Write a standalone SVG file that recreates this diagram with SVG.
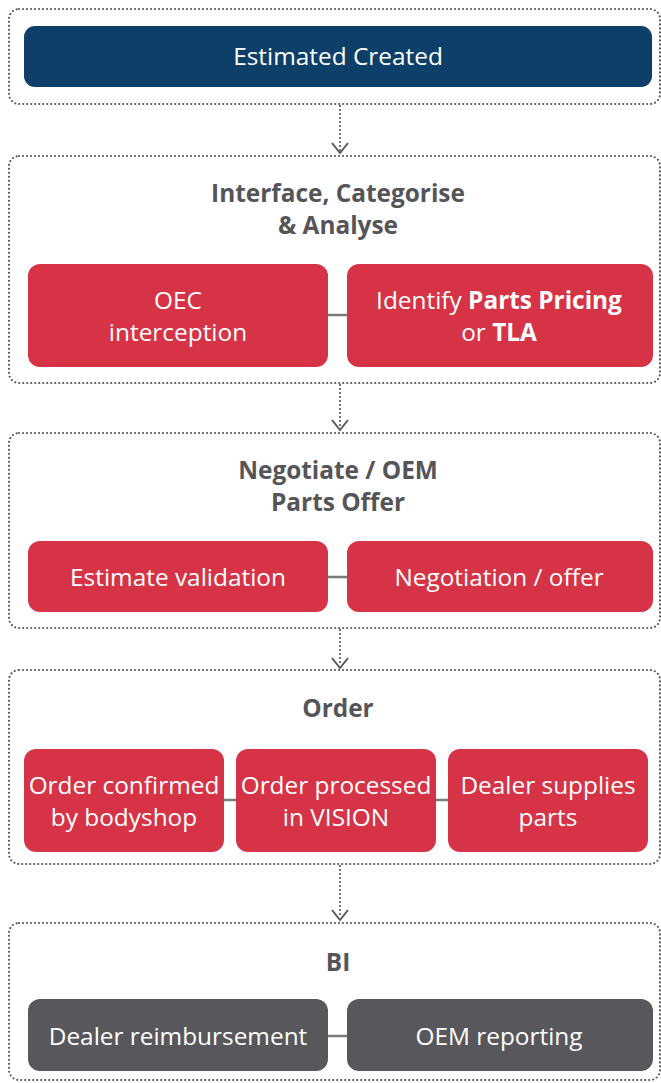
<svg xmlns="http://www.w3.org/2000/svg" width="661" height="1083" viewBox="0 0 661 1083">
<style>
.cont{fill:none;stroke:#58575b;stroke-width:2.2;stroke-dasharray:0 4;stroke-linecap:round}
.blue{fill:#0d3f68}
.red{fill:#d63347}
.grey{fill:#58575b}
.t{font-family:"Open Sans","Noto Sans",sans-serif;font-size:24.4px;fill:#fff;text-anchor:middle}
.h{font-family:"Open Sans","Noto Sans",sans-serif;font-size:24.4px;font-weight:bold;fill:#555459;text-anchor:middle}
.b{font-weight:bold}
.link{stroke:#7a797d;stroke-width:2.5}
.flow{stroke:#58575b;stroke-width:2.2;stroke-dasharray:0 4;stroke-linecap:round;fill:none}
.head{stroke:#58575b;stroke-width:2;fill:none}
</style>
<rect x="0" y="0" width="661" height="1083" fill="#fff"/>
<g id="connectors">
<line class="flow" x1="340" y1="106" x2="340" y2="151"/>
<polyline class="head" points="332,143 340,153 348,143"/>
<line class="flow" x1="340" y1="385" x2="340" y2="428"/>
<polyline class="head" points="332,420 340,430 348,420"/>
<line class="flow" x1="340" y1="630" x2="340" y2="666"/>
<polyline class="head" points="332,658 340,668 348,658"/>
<line class="flow" x1="340" y1="866" x2="340" y2="918"/>
<polyline class="head" points="332,910 340,920 348,910"/>
<line class="link" x1="328" y1="315" x2="347" y2="315"/>
<line class="link" x1="328" y1="577" x2="347" y2="577"/>
<line class="link" x1="224" y1="800" x2="236" y2="800"/>
<line class="link" x1="436" y1="800" x2="448" y2="800"/>
<line class="link" x1="328" y1="1036" x2="347" y2="1036"/>
</g>
<g id="stage1">
<rect class="cont" x="9" y="9" width="651" height="95" rx="10"/>
<g id="estimated-created">
<rect class="blue" x="24" y="26" width="628" height="61" rx="11"/>
<text class="t" x="338" y="65">Estimated Created</text>
</g>
</g>
<g id="stage2">
<rect class="cont" x="9" y="156" width="651" height="227" rx="10"/>
<text class="h" x="338" y="202">Interface, Categorise</text>
<text class="h" x="338" y="234">&amp; Analyse</text>
<g id="oec">
<rect class="red" x="28" y="264" width="300" height="103" rx="12"/>
<text class="t" x="178" y="309">OEC</text>
<text class="t" x="178" y="341">interception</text>
</g>
<g id="identify">
<rect class="red" x="347" y="264" width="306" height="103" rx="12"/>
<text class="t" x="499" y="309">Identify <tspan class="b">Parts Pricing</tspan></text>
<text class="t" x="499" y="341">or <tspan class="b">TLA</tspan></text>
</g>
</g>
<g id="stage3">
<rect class="cont" x="9" y="433" width="651" height="195" rx="10"/>
<text class="h" x="338" y="479">Negotiate / OEM</text>
<text class="h" x="338" y="511">Parts Offer</text>
<g id="estimate-validation">
<rect class="red" x="28" y="541" width="300" height="71" rx="12"/>
<text class="t" x="178" y="586">Estimate validation</text>
</g>
<g id="negotiation">
<rect class="red" x="347" y="541" width="306" height="71" rx="12"/>
<text class="t" x="499" y="586">Negotiation / offer</text>
</g>
</g>
<g id="stage4">
<rect class="cont" x="9" y="670" width="651" height="194" rx="10"/>
<text class="h" x="338" y="717">Order</text>
<g id="order-confirmed">
<rect class="red" x="24" y="749" width="200" height="103" rx="12"/>
<text class="t" x="124" y="794">Order confirmed</text>
<text class="t" x="124" y="826">by bodyshop</text>
</g>
<g id="order-processed">
<rect class="red" x="236" y="749" width="200" height="103" rx="12"/>
<text class="t" x="336" y="794">Order processed</text>
<text class="t" x="336" y="826">in VISION</text>
</g>
<g id="dealer-supplies">
<rect class="red" x="448" y="749" width="200" height="103" rx="12"/>
<text class="t" x="548" y="794">Dealer supplies</text>
<text class="t" x="548" y="826">parts</text>
</g>
</g>
<g id="stage5">
<rect class="cont" x="9" y="923" width="651" height="157" rx="10"/>
<text class="h" x="338" y="971">BI</text>
<g id="dealer-reimbursement">
<rect class="grey" x="28" y="999" width="300" height="72" rx="12"/>
<text class="t" x="178" y="1045">Dealer reimbursement</text>
</g>
<g id="oem-reporting">
<rect class="grey" x="347" y="999" width="306" height="72" rx="12"/>
<text class="t" x="499" y="1045">OEM reporting</text>
</g>
</g>
</svg>
